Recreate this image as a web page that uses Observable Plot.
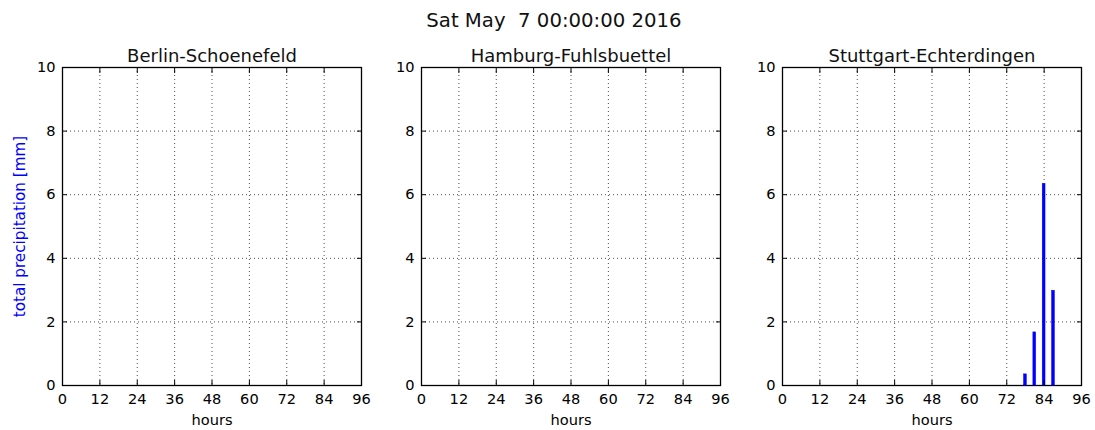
<!DOCTYPE html>
<html><head><meta charset="utf-8">
<script src="https://cdn.jsdelivr.net/npm/d3@7"></script>
<script src="https://cdn.jsdelivr.net/npm/@observablehq/plot@0.6"></script>
<style>
body{margin:0;background:#fff;font-family:"DejaVu Sans",sans-serif;}
#wrap{position:relative;width:1095px;height:430px;overflow:hidden;background:#fff;}
.panel{position:absolute;top:0;}
#sup{position:absolute;left:0;top:0;}
</style></head>
<body><div id="wrap"></div>
<script>
const suptitle = "Sat May  7 00:00:00 2016";
const yLabel = "total precipitation [mm]";
const xLabel = "hours";
const stations = ["Berlin-Schoenefeld", "Hamburg-Fuhlsbuettel", "Stuttgart-Echterdingen"];
const hours = [0,3,6,9,12,15,18,21,24,27,30,33,36,39,42,45,48,51,54,57,60,63,66,69,72,75,78,81,84,87,90,93,96];
const berlin   = [0,0,0,0,0,0,0,0,0,0,0,0,0,0,0,0,0,0,0,0,0,0,0,0,0,0,0,0,0,0,0,0,0];
const hamburg  = [0,0,0,0,0,0,0,0,0,0,0,0,0,0,0,0,0,0,0,0,0,0,0,0,0,0,0,0,0,0,0,0,0];
const stuttgart= [0,0,0,0,0,0,0,0,0,0,0,0,0,0,0,0,0,0,0,0,0,0,0,0,0,0,0.35,1.67,6.34,2.98,0,0,0];
const xTicks = [0,12,24,36,48,60,72,84,96];
const yTicks = [0,2,4,6,8,10];

const series = [berlin, hamburg, stuttgart];
const lefts = [0, 359.3, 719.7];
const wrap = document.getElementById("wrap");

// suptitle
const ns = "http://www.w3.org/2000/svg";
const sup = document.createElementNS(ns, "svg");
sup.setAttribute("id", "sup");
sup.setAttribute("width", 1095); sup.setAttribute("height", 40);
const t = document.createElementNS(ns, "text");
t.setAttribute("x", 554); t.setAttribute("y", 26.5);
t.setAttribute("text-anchor", "middle");
t.setAttribute("font-size", "19.7px");
t.setAttribute("font-family", "DejaVu Sans");
t.setAttribute("fill", "#111");
t.style.whiteSpace = "pre";
t.textContent = suptitle;
sup.appendChild(t);
wrap.appendChild(sup);

series.forEach((vals, i) => {
  const data = hours.map((h, j) => ({h, v: vals[j]}));
  const marks = [
    Plot.gridX(xTicks, {stroke: "#222", strokeOpacity: 1, strokeWidth: 0.8, strokeDasharray: "1,3"}),
    Plot.gridY(yTicks, {stroke: "#222", strokeOpacity: 1, strokeWidth: 0.8, strokeDasharray: "1,3"}),
    Plot.frame({stroke: "#000", strokeWidth: 1.3}),
    Plot.rectY(data, {x1: d => d.h - 0.45, x2: d => d.h + 0.45, y: "v", fill: "#0000ff", stroke: "#0000ff", strokeWidth: 0.5}),
    // inward ticks on all four sides
    Plot.axisX(xTicks, {anchor: "bottom", tickSize: 5, dy: -5, tickFormat: () => "", label: null}),
    Plot.axisX(xTicks, {anchor: "top", tickSize: 5, dy: 5, tickFormat: () => "", label: null}),
    Plot.axisY(yTicks, {anchor: "left", tickSize: 5, dx: 5, tickFormat: () => "", label: null}),
    Plot.axisY(yTicks, {anchor: "right", tickSize: 5, dx: -5, tickFormat: () => "", label: null}),
    // tick labels
    Plot.axisX(xTicks, {anchor: "bottom", tickSize: 0, tickPadding: 8, label: null}),
    Plot.axisY(yTicks, {anchor: "left", tickSize: 0, tickPadding: 7, label: null}),
    Plot.text([stations[i]], {frameAnchor: "top", lineAnchor: "bottom", dy: -6, fontSize: 18, fill: "#111"}),
    Plot.text([xLabel], {frameAnchor: "bottom", lineAnchor: "bottom", dy: 39, fontSize: 14.6, fill: "#000"})
  ];
  if (i === 0) {
    marks.push(Plot.text([yLabel], {frameAnchor: "left", textAnchor: "middle", lineAnchor: "middle", rotate: -90, dx: -42, fontSize: 15.2, fill: "#0000ff"}));
  }
  const p = Plot.plot({
    width: 375, height: 430,
    marginLeft: 62, marginRight: 14, marginTop: 67, marginBottom: 45,
    x: {domain: [0, 96]},
    y: {domain: [0, 10]},
    style: {fontFamily: "DejaVu Sans", fontSize: "14.6px", color: "#000", background: "transparent", overflow: "visible"},
    marks
  });
  p.classList.add("panel");
  p.style.left = lefts[i] + "px";
  wrap.appendChild(p);
});
</script></body></html>
